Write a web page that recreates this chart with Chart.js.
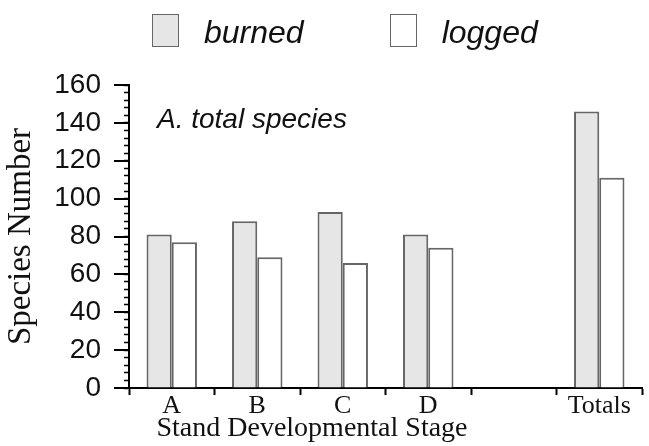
<!DOCTYPE html>
<html lang="en">
<head>
<meta charset="UTF-8">
<title>Species Number by Stand Developmental Stage</title>
<script src="https://cdn.jsdelivr.net/npm/chart.js@4.4.1/dist/chart.umd.min.js"></script>
<style>
  body { margin: 0; background: #fff; }
  .wrap { position: relative; width: 649px; height: 446px; }
  .legend { position: absolute; left: 152px; top: 14px; display: flex; align-items: flex-start; }
  .legend .item { display: flex; align-items: flex-start; margin-right: 86px; }
  .legend .box { width: 25px; height: 31px; border: 1.5px solid #666; margin-right: 25px; }
  .legend .txt { font: italic 32px "Liberation Sans", Arial, sans-serif; line-height: 33px; padding-top: 2px; color: #111; }
</style>
</head>
<body>
<div class="wrap">
  <canvas id="chart" width="649" height="446"></canvas>
  <div class="legend" id="legend"></div>
</div>

<script>
  // data
  const categories = ['A', 'B', 'C', 'D', '', 'Totals'];
  const seriesNames = ['burned', 'logged'];
  const burned = [81, 88, 93, 81, null, 146];
  const logged = [77, 69, 66, 74, null, 111];
  const majorTicks = [0, 20, 40, 60, 80, 100, 120, 140, 160];
  const panelLabel = 'A. total species';
  const xTitle = 'Stand Developmental Stage';
  const yTitle = 'Species Number';

  const fills = ['#e6e6e6', '#ffffff'];

  // legend in html
  const legend = document.getElementById('legend');
  seriesNames.forEach((name, i) => {
    legend.innerHTML += `<div class="item"><div class="box" style="background:${fills[i]}"></div><div class="txt">${name}</div></div>`;
  });

  // long ticks on the y axis at every 20, panel label and x title
  const extras = {
    id: 'extras',
    afterDraw(chart) {
      const ctx = chart.ctx;
      const y = chart.scales.y;
      const area = chart.chartArea;
      ctx.save();
      ctx.strokeStyle = '#000';
      ctx.lineWidth = 2;
      majorTicks.forEach(v => {
        const py = Math.round(y.getPixelForValue(v));
        ctx.beginPath();
        ctx.moveTo(area.left - 15, py);
        ctx.lineTo(area.left, py);
        ctx.stroke();
      });
      ctx.fillStyle = '#111';
      ctx.font = 'italic 28px "Liberation Sans", Arial, sans-serif';
      ctx.textBaseline = 'alphabetic';
      ctx.textAlign = 'left';
      ctx.fillText(panelLabel, area.left + 28, 128);
      ctx.font = '28px "Liberation Serif", "Times New Roman", serif';
      ctx.textAlign = 'center';
      ctx.fillText(xTitle, area.left + 183, 436);
      ctx.restore();
    }
  };

  new Chart(document.getElementById('chart'), {
    type: 'bar',
    data: {
      labels: categories,
      datasets: [
        { label: seriesNames[0], data: burned, backgroundColor: fills[0], borderColor: '#666', borderWidth: 2 },
        { label: seriesNames[1], data: logged, backgroundColor: fills[1], borderColor: '#666', borderWidth: 2 }
      ]
    },
    options: {
      responsive: false,
      animation: false,
      categoryPercentage: 0.59,
      barPercentage: 1.0,
      layout: { padding: { top: 85, right: 7, left: 0, bottom: 0 } },
      plugins: { legend: { display: false }, tooltip: { enabled: false } },
      scales: {
        x: {
          afterFit: s => { s.height = 58; },
          grid: { offset: true, drawOnChartArea: false, tickLength: 7, tickColor: '#000', tickWidth: 2 },
          border: { color: '#000', width: 2 },
          ticks: { color: '#111', padding: -2, font: { family: '"Liberation Serif", "Times New Roman", serif', size: 26, lineHeight: 1 } }
        },
        y: {
          min: 0,
          max: 160,
          afterFit: s => { s.width = 129; },
          grid: { drawOnChartArea: false, tickLength: 5, tickColor: '#000', tickWidth: 1.5 },
          border: { color: '#000', width: 2 },
          ticks: {
            stepSize: 4,
            autoSkip: false,
            padding: 23,
            color: '#111',
            font: { family: '"Liberation Sans", Arial, sans-serif', size: 28 },
            callback: v => (v % 20 === 0 ? v : '')
          },
          title: {
            display: true,
            text: yTitle,
            color: '#111',
            padding: { top: 2, bottom: 0 },
            font: { family: '"Liberation Serif", "Times New Roman", serif', size: 33, lineHeight: 1.2 }
          }
        }
      }
    },
    plugins: [extras]
  });
</script>
</body>
</html>
